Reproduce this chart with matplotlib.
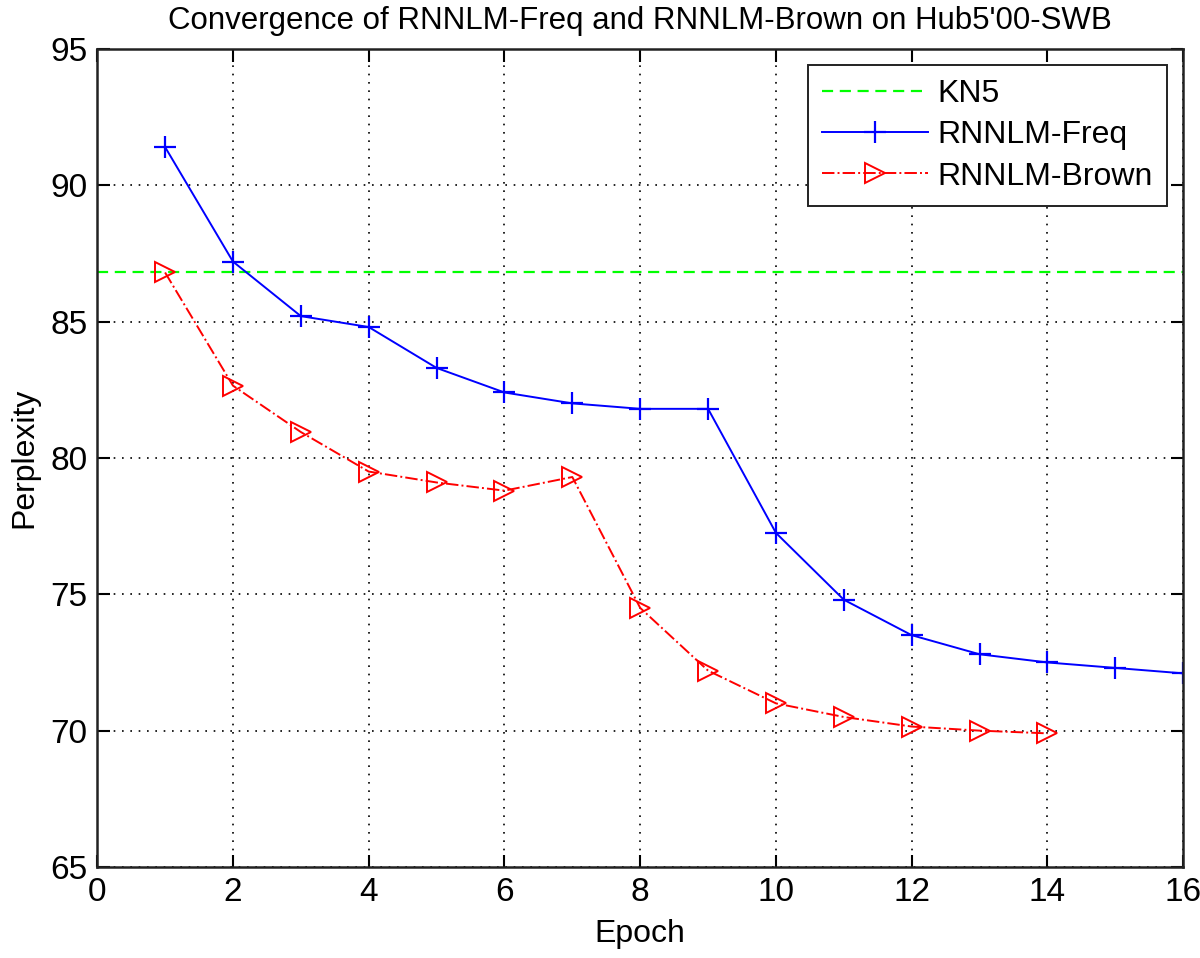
import matplotlib.pyplot as plt
import numpy as np

plt.rcParams["font.family"] = ["Liberation Sans", "DejaVu Sans"]

epochs_freq = [1, 2, 3, 4, 5, 6, 7, 8, 9, 10, 11, 12, 13, 14, 15, 16]
ppl_freq = [91.4, 87.2, 85.2, 84.8, 83.3, 82.4, 82.0, 81.8, 81.8, 77.25, 74.8, 73.5, 72.8, 72.5, 72.3, 72.1]
epochs_brown = [1, 2, 3, 4, 5, 6, 7, 8, 9, 10, 11, 12, 13, 14]
ppl_brown = [86.8, 82.65, 80.95, 79.5, 79.1, 78.8, 79.3, 74.5, 72.2, 71.0, 70.5, 70.15, 70.0, 69.9]
kn5 = 86.8

fig = plt.figure(figsize=(12, 9.58), dpi=100)
ax = fig.add_axes([0.081, 0.095, 0.905, 0.854])

ax.axhline(kn5, color="#00ff00", linestyle=(0, (5, 3)), linewidth=1.6, label="KN5")
ax.plot(epochs_freq, ppl_freq, color="#0000ff", marker="+", markersize=16,
        markeredgewidth=1.6, linewidth=1.4, label="RNNLM-Freq")
ax.plot(epochs_brown, ppl_brown, color="#ff0000", linestyle="-.", marker=">",
        markersize=14, markerfacecolor="none", markeredgewidth=1.4, linewidth=1.4,
        label="RNNLM-Brown")

ax.set_xlim(0, 16)
ax.set_ylim(65, 95)
ax.set_xticks(np.arange(0, 17, 2))
ax.set_yticks(np.arange(65, 96, 5))
ax.grid(True, color="black", linestyle=(0, (1, 4)), linewidth=1.2)
ax.tick_params(direction="in", top=True, right=True, length=9, width=1.5,
               labelsize=24, pad=7)
for s in ax.spines.values():
    s.set_linewidth(1.8)
    s.set_color("#222222")

ax.set_xlabel("Epoch", fontsize=23, labelpad=8)
ax.set_ylabel("Perplexity", fontsize=23, labelpad=8)
ax.set_title("Convergence of RNNLM-Freq and RNNLM-Brown on Hub5'00-SWB",
             fontsize=22.5, pad=14)

leg = ax.legend(loc="upper right", fontsize=23, fancybox=False, framealpha=1,
                edgecolor="#222222", handlelength=3.3, handletextpad=0.3,
                borderaxespad=0.5, borderpad=0.45, labelspacing=0.35)
leg.get_frame().set_linewidth(1.4)

fig.savefig("out.png", dpi=100)
